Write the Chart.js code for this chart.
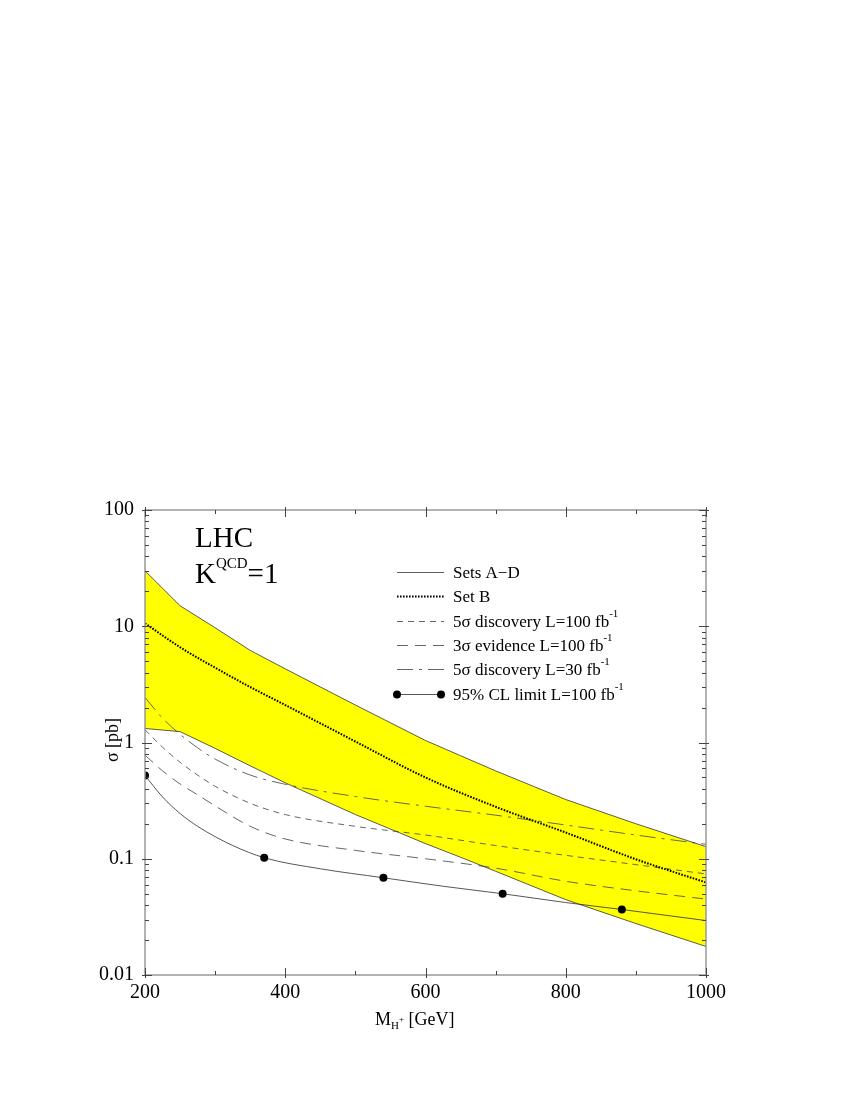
<!DOCTYPE html>
<html>
<head>
<meta charset="utf-8">
<script src="https://cdn.jsdelivr.net/npm/chart.js@4.4.0/dist/chart.umd.min.js"></script>
<style>
  html, body { margin: 0; padding: 0; background: #fff; }
</style>
</head>
<body>
<canvas id="sigmaChart" width="850" height="1100"></canvas>
<script>
// axis ticks
const xTicks = [200, 400, 600, 800, 1000];
const xMinorTicks = [300, 500, 700, 900];
const yTicks = [0.01, 0.1, 1, 10, 100];
const yTickLabels = ['0.01', '0.1', '1', '10', '100'];

// Sets A-D band (upper / lower edge)
const bandMass = [200, 250, 300, 350, 400, 500, 600, 650, 700, 800, 900, 1000];
const bandUpper = [30, 15, 9.7, 6.2, 4.3, 2.1, 1.04, 0.77, 0.57, 0.323, 0.2, 0.127];
const bandLower = [1.32, 1.24, 0.89, 0.63, 0.45, 0.24, 0.135, 0.103, 0.078, 0.0445, 0.0277, 0.0176];

// Set B
const setBMass = [200, 250, 300, 350, 400, 500, 600, 700, 800, 900, 1000];
const setB = [10.6, 6.6, 4.4, 3.0, 2.1, 1.02, 0.5, 0.28, 0.168, 0.099, 0.0625];

// reach curves
const reachMass = [200, 225, 250, 275, 300, 350, 400, 500, 600, 700, 800, 900, 1000];
const disc5L100 = [1.29, 0.91, 0.676, 0.525, 0.42, 0.30, 0.24, 0.19, 0.16, 0.13, 0.107, 0.089, 0.074];
const evid3L100 = [0.78, 0.57, 0.44, 0.355, 0.285, 0.19, 0.148, 0.118, 0.10, 0.083, 0.064, 0.053, 0.045];
const disc5L30 = [2.44, 1.62, 1.175, 0.90, 0.72, 0.525, 0.437, 0.343, 0.283, 0.237, 0.195, 0.16, 0.133];

// 95% CL limit
const limitMass = [200, 225, 250, 275, 300, 325, 370, 450, 540, 625, 710, 800, 880, 1000];
const limit95 = [0.52, 0.34, 0.245, 0.19, 0.155, 0.13, 0.102, 0.082, 0.0686, 0.058, 0.050, 0.042, 0.0366, 0.0294];
const limitMarkers = [200, 370, 540, 710, 880];

const SERIF = '"Liberation Serif", "DejaVu Serif", serif';

function toPoints(xs, ys) {
  return xs.map((x, i) => ({ x: x, y: ys[i] }));
}

// draw text runs with sub/superscripts
function drawRuns(ctx, x, y, runs) {
  let cx = x;
  runs.forEach(r => {
    ctx.font = r.size + 'px ' + SERIF;
    ctx.fillText(r.t, cx, y + (r.dy || 0));
    cx += ctx.measureText(r.t).width;
  });
  return cx;
}

const legendItems = [
  { ds: 1, runs: [{ t: 'Sets A\u2212D', size: 17 }] },
  { ds: 2, runs: [{ t: 'Set B', size: 17 }] },
  { ds: 3, runs: [{ t: '5\u03c3 discovery L=100 fb', size: 17 }, { t: '-1', size: 11, dy: -8 }] },
  { ds: 4, runs: [{ t: '3\u03c3 evidence L=100 fb', size: 17 }, { t: '-1', size: 11, dy: -8 }] },
  { ds: 5, runs: [{ t: '5\u03c3 discovery L=30 fb', size: 17 }, { t: '-1', size: 11, dy: -8 }] },
  { ds: 6, runs: [{ t: '95% CL limit L=100 fb', size: 17 }, { t: '-1', size: 11, dy: -8 }], dots: true }
];

const framePlugin = {
  id: 'framePlugin',
  afterDraw(chart) {
    const { ctx, chartArea: a, scales: { x, y } } = chart;
    ctx.save();
    ctx.strokeStyle = '#999';
    ctx.lineWidth = 1.5;
    ctx.strokeRect(a.left, a.top, a.right - a.left, a.bottom - a.top);

    ctx.strokeStyle = '#444';
    ctx.lineWidth = 1;
    const line = (x1, y1, x2, y2) => {
      ctx.beginPath();
      ctx.moveTo(x1, y1);
      ctx.lineTo(x2, y2);
      ctx.stroke();
    };
    // x ticks (bottom and top)
    xTicks.forEach(v => {
      const px = Math.round(x.getPixelForValue(v)) + 0.5;
      line(px, a.bottom + 3, px, a.bottom - 7);
      line(px, a.top - 3, px, a.top + 7);
    });
    xMinorTicks.forEach(v => {
      const px = Math.round(x.getPixelForValue(v)) + 0.5;
      line(px, a.bottom, px, a.bottom - 4);
      line(px, a.top, px, a.top + 4);
    });
    // y ticks (left and right), log minor ticks
    yTicks.forEach(v => {
      const py = Math.round(y.getPixelForValue(v)) + 0.5;
      line(a.left - 3, py, a.left + 7, py);
      line(a.right + 3, py, a.right - 7, py);
    });
    yTicks.slice(0, -1).forEach(d => {
      for (let m = 2; m <= 9; m++) {
        const py = Math.round(y.getPixelForValue(m * d)) + 0.5;
        line(a.left, py, a.left + 4, py);
        line(a.right, py, a.right - 4, py);
      }
    });

    // axis titles
    ctx.fillStyle = '#000';
    ctx.textBaseline = 'alphabetic';
    ctx.textAlign = 'left';
    let cx = drawRuns(ctx, 375, 1025, [{ t: 'M', size: 18 }]);
    ctx.font = '11px ' + SERIF;
    ctx.fillText('H', cx, 1029);
    const hw = ctx.measureText('H').width;
    ctx.font = '9px ' + SERIF;
    ctx.fillText('+', cx + hw, 1022);
    cx += hw + ctx.measureText('+').width;
    drawRuns(ctx, cx, 1025, [{ t: ' [GeV]', size: 18 }]);

    ctx.save();
    ctx.translate(118, 740);
    ctx.rotate(-Math.PI / 2);
    ctx.textAlign = 'center';
    ctx.font = '18px ' + SERIF;
    ctx.fillText('\u03c3 [pb]', 0, 0);
    ctx.restore();

    // LHC label
    ctx.textAlign = 'left';
    drawRuns(ctx, 195, 547, [{ t: 'LHC', size: 29 }]);
    drawRuns(ctx, 195, 583, [{ t: 'K', size: 29 }, { t: 'QCD', size: 15, dy: -15 }, { t: '=1', size: 29 }]);

    // legend
    legendItems.forEach((item, i) => {
      const ds = chart.data.datasets[item.ds];
      const ry = Math.round(572 + 24.3 * i) + 0.5;
      ctx.strokeStyle = ds.borderColor;
      ctx.lineWidth = ds.borderWidth;
      ctx.setLineDash(ds.borderDash || []);
      line(397, ry, 444, ry);
      ctx.setLineDash([]);
      if (item.dots) {
        ctx.fillStyle = '#000';
        [397, 441].forEach(dx => {
          ctx.beginPath();
          ctx.arc(dx, ry, 4, 0, Math.PI * 2);
          ctx.fill();
        });
      }
      ctx.fillStyle = '#000';
      ctx.textBaseline = 'middle';
      drawRuns(ctx, 453, ry + 1, item.runs);
    });
    ctx.restore();
  }
};

const ctx = document.getElementById('sigmaChart').getContext('2d');

new Chart(ctx, {
  type: 'line',
  data: {
    datasets: [
      {
        label: 'band upper',
        data: toPoints(bandMass, bandUpper),
        borderColor: '#333',
        borderWidth: 0.8,
        backgroundColor: '#ffff00',
        fill: '+1',
        tension: 0,
        pointRadius: 0
      },
      {
        label: 'Sets A-D',
        data: toPoints(bandMass, bandLower),
        borderColor: '#333',
        borderWidth: 0.8,
        fill: false,
        tension: 0,
        pointRadius: 0
      },
      {
        label: 'Set B',
        data: toPoints(setBMass, setB),
        borderColor: '#000',
        borderWidth: 2,
        borderDash: [1.6, 1.4],
        cubicInterpolationMode: 'monotone',
        fill: false,
        pointRadius: 0
      },
      {
        label: '5 sigma discovery L=100',
        data: toPoints(reachMass, disc5L100),
        borderColor: '#555',
        borderWidth: 0.9,
        borderDash: [6, 5],
        cubicInterpolationMode: 'monotone',
        fill: false,
        pointRadius: 0
      },
      {
        label: '3 sigma evidence L=100',
        data: toPoints(reachMass, evid3L100),
        borderColor: '#555',
        borderWidth: 0.9,
        borderDash: [11, 7],
        cubicInterpolationMode: 'monotone',
        fill: false,
        pointRadius: 0
      },
      {
        label: '5 sigma discovery L=30',
        data: toPoints(reachMass, disc5L30),
        borderColor: '#555',
        borderWidth: 0.9,
        borderDash: [16, 6, 3, 6],
        cubicInterpolationMode: 'monotone',
        fill: false,
        pointRadius: 0
      },
      {
        label: '95% CL limit',
        data: toPoints(limitMass, limit95),
        borderColor: '#444',
        borderWidth: 0.9,
        cubicInterpolationMode: 'monotone',
        fill: false,
        pointRadius: limitMass.map(m => limitMarkers.includes(m) ? 4 : 0),
        pointBackgroundColor: '#000',
        pointBorderWidth: 0
      }
    ]
  },
  options: {
    responsive: false,
    animation: false,
    layout: {
      padding: { left: 0, right: 144, top: 510, bottom: 85 }
    },
    plugins: {
      legend: { display: false },
      tooltip: { enabled: false },
      filler: { drawTime: 'beforeDatasetsDraw' }
    },
    scales: {
      x: {
        type: 'linear',
        min: 200,
        max: 1000,
        afterBuildTicks: s => { s.ticks = xTicks.map(v => ({ value: v })); },
        afterFit: s => { s.height = 40; },
        grid: { display: false, drawTicks: false },
        border: { display: false },
        ticks: {
          color: '#000',
          padding: 6,
          maxRotation: 0,
          font: { family: SERIF, size: 20 },
          callback: v => String(v)
        }
      },
      y: {
        type: 'logarithmic',
        min: 0.01,
        max: 100,
        afterBuildTicks: s => { s.ticks = yTicks.map(v => ({ value: v })); },
        afterFit: s => { s.width = 145; },
        grid: { display: false, drawTicks: false },
        border: { display: false },
        ticks: {
          color: '#000',
          padding: 11,
          font: { family: SERIF, size: 20 },
          callback: v => yTickLabels[yTicks.indexOf(v)]
        }
      }
    }
  },
  plugins: [framePlugin]
});
</script>
</body>
</html>
